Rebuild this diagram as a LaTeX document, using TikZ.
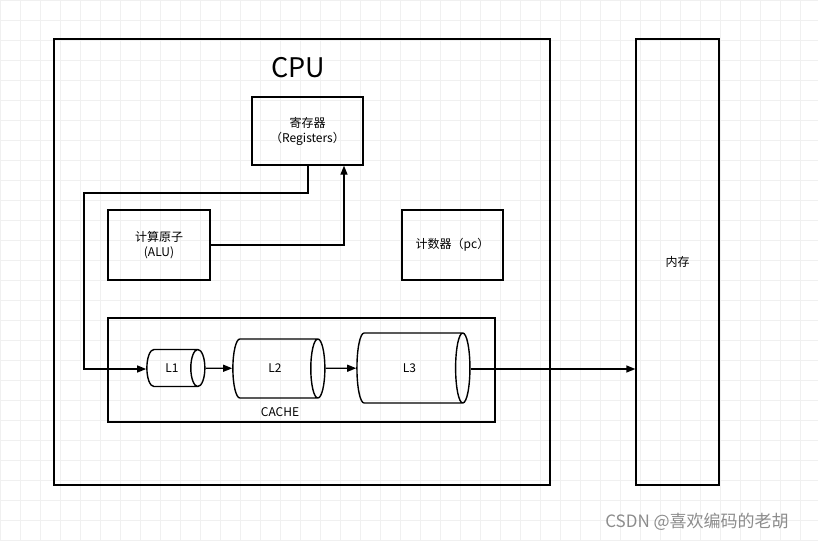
\documentclass[tikz,border=0pt]{standalone}
\usepackage{fontspec}
\setmainfont{Noto Sans CJK SC}
\usetikzlibrary{shapes.geometric,arrows.meta}

\begin{document}
\begin{tikzpicture}[x=1pt, y=-1pt, box/.style={draw, line width=1.3pt, rectangle, inner sep=0pt, font=\fontsize{12}{15}\selectfont, align=center}, cyl/.style={draw, cylinder, shape border rotate=0, aspect=1.6, line width=1.4pt, font=\fontsize{12}{15}\selectfont, inner sep=0pt}, n/.style={-{Triangle[length=9pt,width=7pt]}, line width=1.3pt}]
            \useasboundingbox (0,0) rectangle (818,541);
            % grid
            \draw[black!6, step=20pt] (0,0) grid (818,541);
            % nodes
            \node[box, minimum width=496pt, minimum height=446pt] (cpu) at (302,262) {};
            \node[font=\fontsize{27}{30}\selectfont] (cputxt) at (298,68) {CPU};
            \node[box, minimum width=83pt, minimum height=446pt] (mem) at (677.5,262) {内存};
            \node[box, minimum width=111pt, minimum height=68pt] (reg) at (307.5,131) {寄存器\\（Registers）};
            \node[box, minimum width=102pt, minimum height=70pt] (alu) at (159,245) {计算原子\\(ALU)};
            \node[box, minimum width=101pt, minimum height=70pt] (pc) at (452.5,245) {计数器（pc）};
            \node[box, minimum width=387pt, minimum height=104pt] (cache) at (301.5,370) {};
            \node[font=\fontsize{12}{15}\selectfont] (cachetxt) at (280,412) {CACHE};
            \node[cyl, minimum height=58pt, minimum width=37pt] (l1) at (172,368) {L1};
            \node[cyl, minimum height=92pt, minimum width=59pt] (l2) at (275,368.5) {L2};
            \node[cyl, minimum height=113pt, minimum width=70pt] (l3) at (409.5,368) {L3};
            \coordinate (c1) at (308,193);
            \coordinate (c2) at (84,193);
            \coordinate (c3) at (84,369);
            \coordinate (c4) at (344,245);
            % edges
            \draw [n] (reg.south -| c1) -- (c1) -- (c2) -- (c3) -- (l1.west |- c3);
            \draw [n] (alu.east) -- (c4) -- (reg.south -| c4);
            \draw [n] (l1) -- (l2);
            \draw [n] (l2) -- (l3);
            \draw [n] (l3.east |- c3) -- (mem.west |- c3);
            \node[text=black!45, font=\fontsize{17}{20}\selectfont] (mark) at (697,522) {CSDN @喜欢编码的老胡};
        \end{tikzpicture}
\end{document}
